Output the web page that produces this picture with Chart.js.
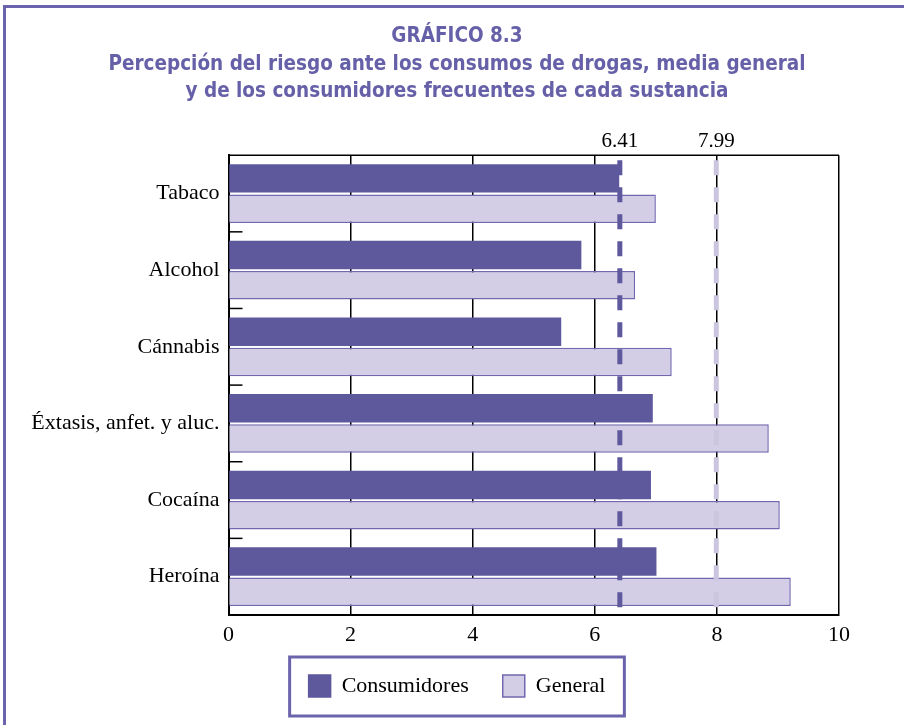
<!DOCTYPE html>
<html lang="es">
<head>
<meta charset="utf-8">
<title>Gráfico 8.3</title>
<script src="https://cdn.jsdelivr.net/npm/chart.js@4.4.1/dist/chart.umd.min.js"></script>
<style>
  html, body { margin: 0; padding: 0; background: #fff; }
  #marco {
    position: absolute; left: 3px; top: 5px; width: 920px; height: 740px;
    border-left: 3px solid #6b64ad; border-top: 3px solid #6b64ad;
  }
  #grafico { position: absolute; left: 0; top: 0; }
</style>
</head>
<body>
<div id="marco"></div>
<canvas id="grafico" width="904" height="725"></canvas>
<script>
// Datos del gráfico
const categorias = ['Tabaco', 'Alcohol', 'Cánnabis', 'Éxtasis, anfet. y aluc.', 'Cocaína', 'Heroína'];
const consumidores = [6.40, 5.78, 5.45, 6.95, 6.92, 7.01];
const general = [7.00, 6.66, 7.26, 8.85, 9.03, 9.21];
const medias = [6.41, 7.99];
const ticksX = [0, 2, 4, 6, 8, 10];

const MORADO = '#5e589d';
const LILA = '#d3cee6';
const BORDE_LILA = '#7168b0';
const fuenteSerif = "'Liberation Serif', 'Times New Roman', serif";

// líneas discontinuas de las medias, marcas interiores del eje y caja de la leyenda
const extras = {
  id: 'extras',
  afterDatasetsDraw(chart) {
    const { ctx, chartArea: a, scales: { x, y } } = chart;
    ctx.save();
    // marco superior
    ctx.strokeStyle = '#000';
    ctx.lineWidth = 1.5;
    ctx.beginPath();
    ctx.moveTo(a.left, a.top);
    ctx.lineTo(a.right, a.top);
    ctx.stroke();
    // marcas entre categorías
    for (let i = 1; i < categorias.length; i++) {
      const yy = (y.getPixelForValue(i - 1) + y.getPixelForValue(i)) / 2;
      ctx.beginPath();
      ctx.moveTo(a.left, yy);
      ctx.lineTo(a.left + 14, yy);
      ctx.stroke();
    }
    // medias
    const estilos = [MORADO, '#cbc5e0'];
    medias.forEach((m, i) => {
      const px = x.getPixelForValue(m);
      ctx.strokeStyle = estilos[i];
      ctx.lineWidth = 5;
      ctx.setLineDash([15, 12]);
      ctx.beginPath();
      ctx.moveTo(px, a.top + 5);
      ctx.lineTo(px, a.bottom);
      ctx.stroke();
      ctx.setLineDash([]);
      ctx.fillStyle = '#000';
      ctx.font = '21px ' + fuenteSerif;
      ctx.textAlign = 'center';
      ctx.textBaseline = 'middle';
      ctx.fillText(m.toFixed(2), px, a.top - 14);
    });
    ctx.restore();
  },
  afterDraw(chart) {
    const cajas = chart.legend.legendHitBoxes;
    if (!cajas || !cajas.length) return;
    const ult = cajas[cajas.length - 1];
    const cy = cajas[0].top + cajas[0].height / 2;
    const { ctx } = chart;
    ctx.save();
    ctx.strokeStyle = '#6b64ad';
    ctx.lineWidth = 3;
    ctx.strokeRect(cajas[0].left - 19, cy - 29, ult.left + ult.width - cajas[0].left + 38, 59);
    ctx.restore();
  }
};

new Chart(document.getElementById('grafico'), {
  type: 'bar',
  data: {
    labels: categorias,
    datasets: [
      { label: 'Consumidores', data: consumidores, backgroundColor: MORADO, borderWidth: 0 },
      { label: 'General', data: general, backgroundColor: LILA, borderColor: BORDE_LILA, borderWidth: 1.5 }
    ]
  },
  options: {
    indexAxis: 'y',
    responsive: false,
    animation: false,
    categoryPercentage: 0.79,
    barPercentage: 0.94,
    layout: { padding: { left: 10, right: 0, top: 0, bottom: 18 } },
    scales: {
      x: {
        min: 0,
        max: 10,
        afterBuildTicks: s => { s.ticks = ticksX.map(v => ({ value: v })); },
        afterFit: s => { s.height = 26; },
        grid: { color: '#000', lineWidth: 1.5, drawTicks: false },
        border: { color: '#000', width: 2 },
        ticks: { color: '#000', font: { family: fuenteSerif, size: 22 }, padding: 7 }
      },
      y: {
        afterFit: s => { s.width = 218.5; },
        grid: { display: false, drawTicks: false },
        border: { color: '#000', width: 2 },
        ticks: { color: '#000', font: { family: fuenteSerif, size: 22 }, padding: 9 }
      },
      yr: {
        axis: 'y',
        position: 'right',
        type: 'linear',
        grid: { display: false },
        border: { display: false },
        ticks: { display: false },
        afterFit: s => { s.width = 65; }
      }
    },
    plugins: {
      title: {
        display: true,
        text: ['GRÁFICO 8.3', 'Percepción del riesgo ante los consumos de drogas, media general', 'y de los consumidores frecuentes de cada sustancia'],
        color: '#6660a8',
        font: { family: "'Liberation Sans Narrow', 'DejaVu Sans Condensed', sans-serif", size: 20.5, weight: 'bold', lineHeight: 1.34 },
        padding: { top: 23, bottom: 49.8 }
      },
      legend: {
        position: 'bottom',
        labels: {
          color: '#000',
          font: { family: fuenteSerif, size: 22 },
          boxWidth: 22,
          boxHeight: 22,
          padding: 34,
          generateLabels: chart => chart.data.datasets.map((d, i) => ({
            text: d.label,
            fillStyle: d.backgroundColor,
            strokeStyle: i === 0 ? MORADO : BORDE_LILA,
            lineWidth: 1.5,
            datasetIndex: i
          }))
        }
      },
      tooltip: { enabled: false }
    }
  },
  plugins: [extras]
});
</script>
</body>
</html>
